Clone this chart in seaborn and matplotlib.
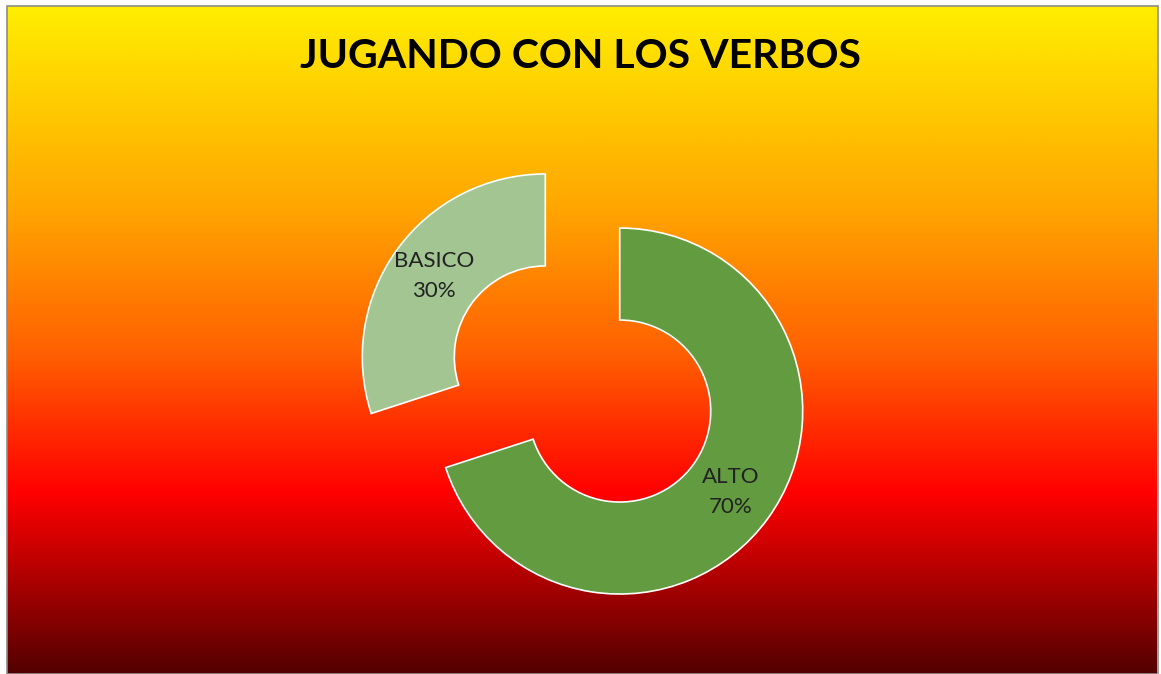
import numpy as np
import pandas as pd
import seaborn as sns
import matplotlib.pyplot as plt
from matplotlib.colors import LinearSegmentedColormap
from matplotlib.patches import Rectangle

sns.set_style("white")
plt.rcParams['font.family'] = ['Lato', 'DejaVu Sans']

# data
niveles = ["ALTO", "BASICO"]
porcentajes = [70, 30]
colores = ["#639B40", "#A3C592"]
titulo = "JUGANDO CON LOS VERBOS"

df = pd.DataFrame({"nivel": niveles, "pct": porcentajes})

W, H = 1161, 674
fig = plt.figure(figsize=(W / 100, H / 100), dpi=100)
fig.patch.set_facecolor("white")

# gradient background (fire-like)
bg = fig.add_axes([7 / W, 0, (1157 - 7) / W, (H - 6) / H])
fire = LinearSegmentedColormap.from_list(
    "fire",
    [(0.0, "#FFEE00"), (0.30, "#FFA600"), (0.52, "#FF6000"),
     (0.73, "#FF0000"), (1.0, "#540000")])
grad = np.linspace(0, 1, 512).reshape(-1, 1)
bg.imshow(grad, aspect="auto", cmap=fire, extent=[0, 1, 0, 1], origin="upper")
bg.set_axis_off()
fig.add_artist(Rectangle((6.5 / W, 0), (1158 - 6.5) / W, (H - 5.5) / H,
                         transform=fig.transFigure, fill=False,
                         edgecolor="#8C8C8C", linewidth=1.2))

# donut (axes in pixel units, explode is in data units)
ax = fig.add_axes([0, 0, 1, 1])
ax.patch.set_alpha(0)

labels = [f"{n}\n{p}%" for n, p in zip(df["nivel"], df["pct"])]
wedges, texts = ax.pie(
    df["pct"], labels=labels, colors=colores, startangle=90,
    counterclock=False, radius=183, center=(582.5, H - 384),
    explode=[46, 46], labeldistance=0.75, frame=True,
    wedgeprops=dict(width=92, edgecolor="white", linewidth=1.2),
    textprops=dict(fontsize=16, color="#222222"))
for t in texts:
    t.set_horizontalalignment("center")
    t.set_verticalalignment("center")
    t.set_linespacing(1.6)
ax.set_xlim(0, W)
ax.set_ylim(0, H)
ax.set_aspect("equal")
ax.set_axis_off()

fig.text(581 / W, 1 - 57 / H, titulo, ha="center", va="center",
         fontsize=29.5, fontweight="bold", color="black")

fig.savefig("out.png", dpi=100)
